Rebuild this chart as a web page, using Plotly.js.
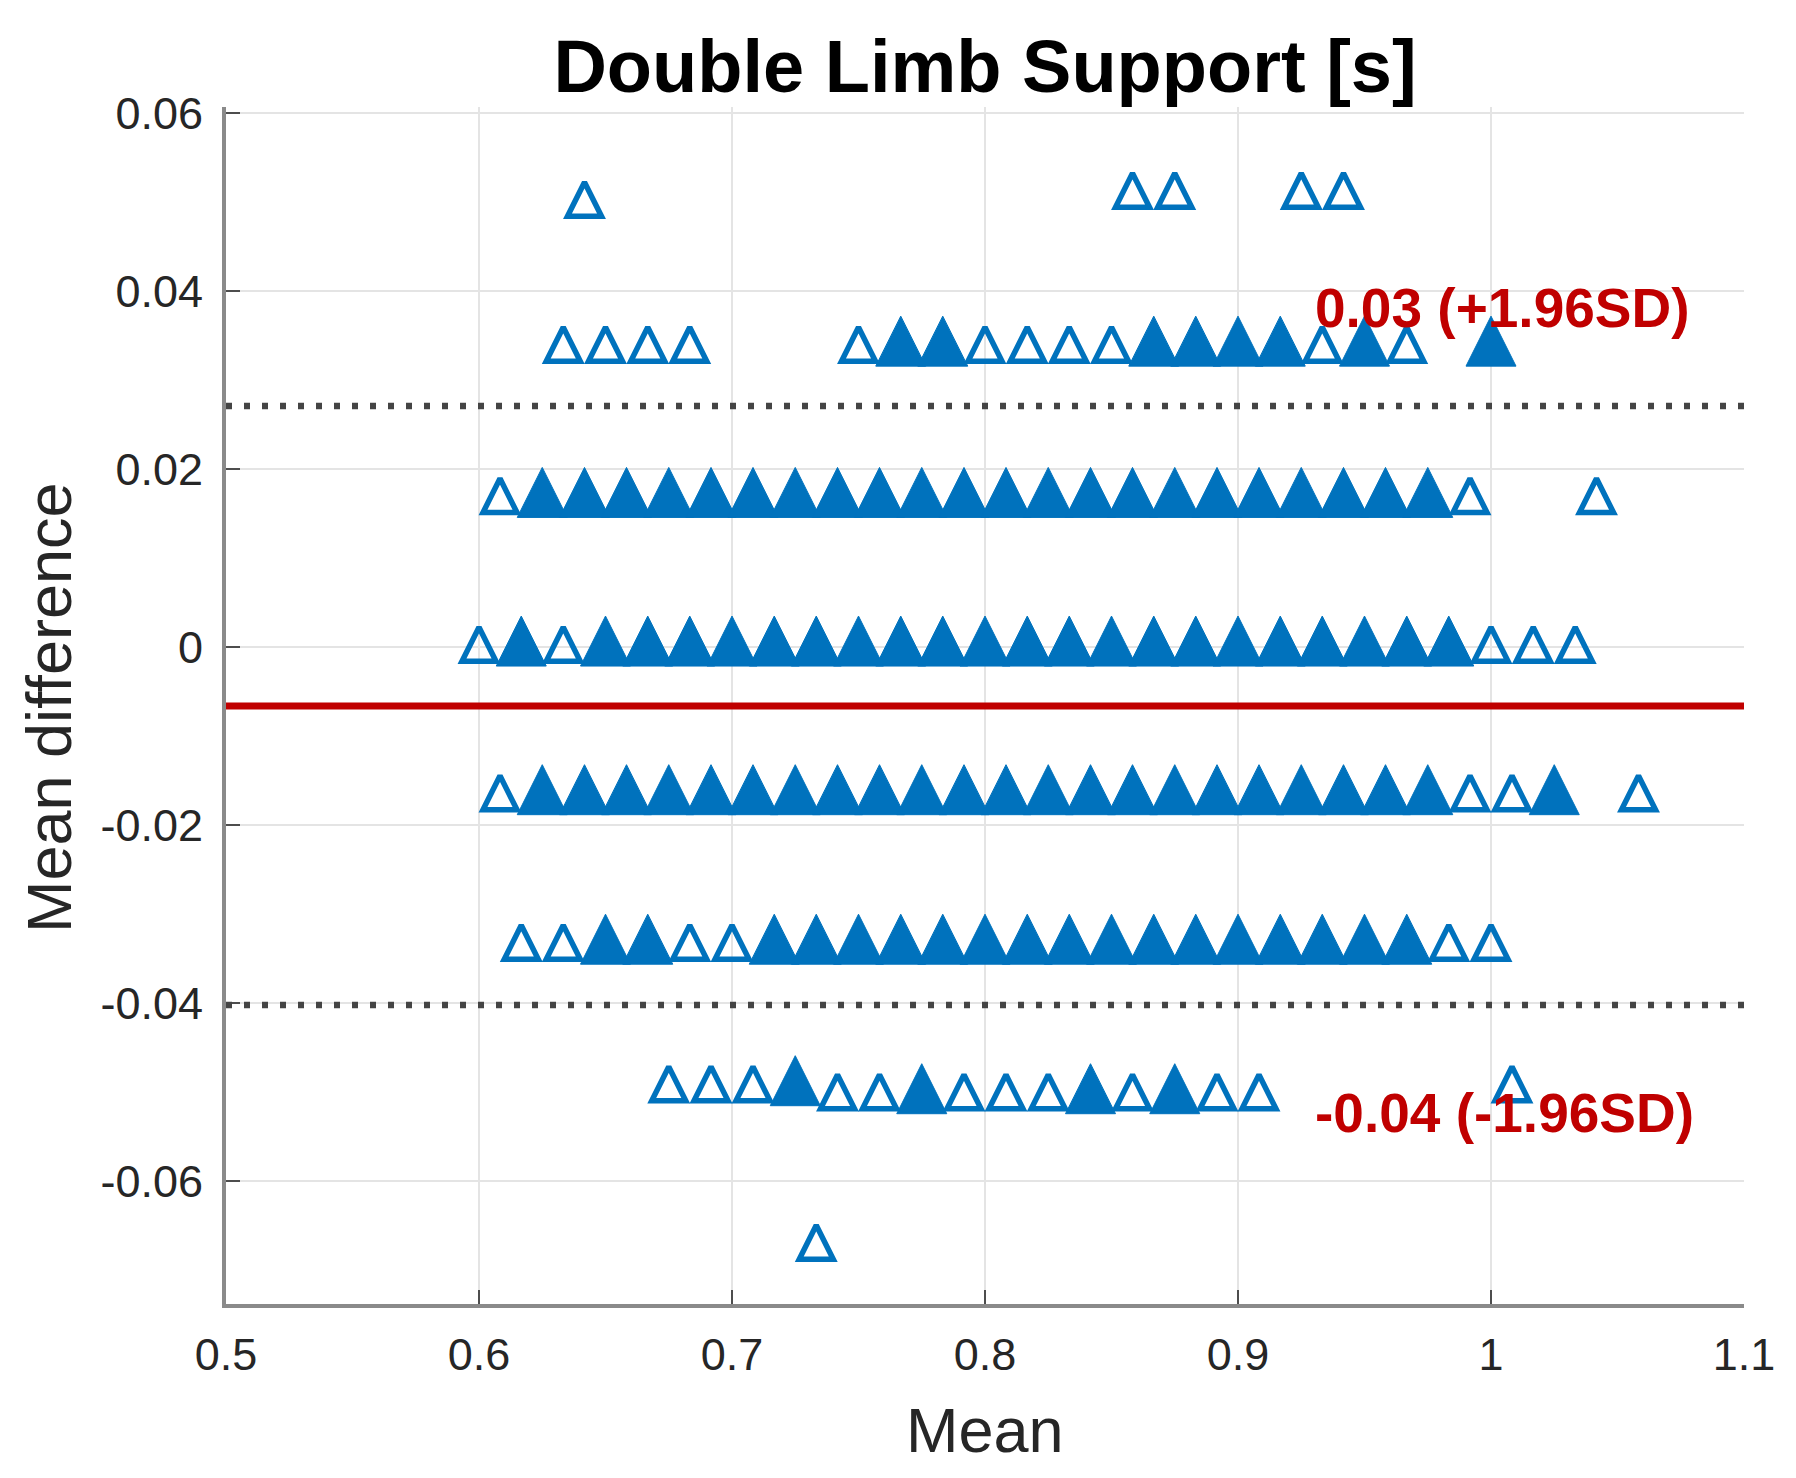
<!DOCTYPE html>
<html>
<head>
<meta charset="utf-8">
<script src="https://cdn.plot.ly/plotly-3.0.1.min.js"></script>
<style>
  html, body { margin: 0; padding: 0; background: #fff; }
  #chart { width: 1796px; height: 1478px; }
</style>
</head>
<body>
<div id="chart"></div>
<script>
// Bland-Altman data (seconds)
const diffLevels = [0.0500, 0.0510, 0.0337, 0.0167, 0, -0.0167, -0.0335, -0.0494, -0.0503, -0.0672];

// sparse (single / double) points per difference level
const openMeans = [
    [0.6417],
    [0.8583, 0.875, 0.925, 0.9417],
    [0.6333, 0.65, 0.6667, 0.6833, 0.75, 0.8, 0.8167, 0.8333, 0.85, 0.9333, 0.9667],
    [0.6083, 0.9917, 1.0417],
    [0.6, 0.6333, 1.0, 1.0167, 1.0333],
    [0.6083, 0.9917, 1.0083, 1.0583],
    [0.6167, 0.6333, 0.6833, 0.7, 0.9833, 1.0],
    [0.675, 0.6917, 0.7083, 1.0083],
    [0.7417, 0.7583, 0.7917, 0.8083, 0.825, 0.8583, 0.8917, 0.9083],
    [0.7333]
];

// heavily overlapping points per difference level
const denseMeans = [
    [],
    [],
    [0.7667, 0.7833, 0.8667, 0.8833, 0.9, 0.9167, 0.95, 1.0],
    [0.625, 0.6417, 0.6583, 0.675, 0.6917, 0.7083, 0.725, 0.7417, 0.7583, 0.775, 0.7917,
     0.8083, 0.825, 0.8417, 0.8583, 0.875, 0.8917, 0.9083, 0.925, 0.9417, 0.9583, 0.975],
    [0.6167, 0.65, 0.6667, 0.6833, 0.7, 0.7167, 0.7333, 0.75, 0.7667, 0.7833, 0.8, 0.8167,
     0.8333, 0.85, 0.8667, 0.8833, 0.9, 0.9167, 0.9333, 0.95, 0.9667, 0.9833],
    [0.625, 0.6417, 0.6583, 0.675, 0.6917, 0.7083, 0.725, 0.7417, 0.7583, 0.775, 0.7917,
     0.8083, 0.825, 0.8417, 0.8583, 0.875, 0.8917, 0.9083, 0.925, 0.9417, 0.9583, 0.975, 1.025],
    [0.65, 0.6667, 0.7167, 0.7333, 0.75, 0.7667, 0.7833, 0.8, 0.8167, 0.8333, 0.85, 0.8667,
     0.8833, 0.9, 0.9167, 0.9333, 0.95, 0.9667],
    [0.725],
    [0.775, 0.8417, 0.875],
    []
];

const meanDiff = -0.0066;
const upperLoA = 0.0271;
const lowerLoA = -0.0402;
const upperLabel = '0.03 (+1.96SD)';
const lowerLabel = '-0.04 (-1.96SD)';

const xTicks = [0.5, 0.6, 0.7, 0.8, 0.9, 1.0, 1.1];
const xTickText = ['0.5', '0.6', '0.7', '0.8', '0.9', '1', '1.1'];
const yTicks = [-0.06, -0.04, -0.02, 0, 0.02, 0.04, 0.06];
const yTickText = ['-0.06', '-0.04', '-0.02', '0', '0.02', '0.04', '0.06'];

const openX = [], openY = [], denseX = [], denseY = [];
diffLevels.forEach((d, i) => {
    openMeans[i].forEach(m => { openX.push(m); openY.push(d); });
    denseMeans[i].forEach(m => { denseX.push(m); denseY.push(d); });
});

const yRange = [-0.0738, 0.0607];
// arrow markers hang below their point, so overlay axes lift them onto the value
const shiftRange = s => [yRange[0] - s, yRange[1] - s];

const FONT = 'Liberation Sans, Arial, Helvetica, sans-serif';
const BLUE = '#0072BD';
const RED = '#C00000';

const traces = [
    {
        x: denseX, y: denseY, yaxis: 'y2', type: 'scatter', mode: 'markers',
        hoverinfo: 'x+y',
        marker: {symbol: 'arrow-up', size: 50, color: BLUE, line: {color: BLUE, width: 1}}
    },
    {
        x: openX, y: openY, yaxis: 'y3', type: 'scatter', mode: 'markers',
        hoverinfo: 'x+y',
        marker: {symbol: 'arrow-up-open', size: 34, color: BLUE, line: {color: BLUE, width: 5.5}}
    }
];

const axisCommon = {
    showline: true, linecolor: '#8a8a8a', linewidth: 4,
    showgrid: true, gridcolor: '#e4e4e4', gridwidth: 2,
    zeroline: false,
    ticks: 'inside', ticklen: 14, tickwidth: 2, tickcolor: '#4d4d4d',
    tickfont: {family: FONT, size: 45, color: '#262626'}
};

const layout = {
    width: 1796, height: 1478,
    margin: {l: 226, r: 52, t: 107, b: 174, pad: 0},
    paper_bgcolor: '#fff', plot_bgcolor: '#fff',
    showlegend: false,
    title: {
        text: 'Double Limb Support [s]',
        font: {family: FONT, size: 74, color: '#000', weight: 'bold'},
        x: 0.5, xref: 'paper', xanchor: 'center',
        y: 1 - 66 / 1478, yref: 'container', yanchor: 'middle'
    },
    xaxis: Object.assign({}, axisCommon, {
        range: [0.5, 1.1], tickmode: 'array', tickvals: xTicks, ticktext: xTickText,
        ticklabelstandoff: 8
    }),
    yaxis: Object.assign({}, axisCommon, {
        range: yRange, tickmode: 'array', tickvals: yTicks, ticktext: yTickText,
        ticklabelstandoff: 10
    }),
    yaxis2: {overlaying: 'y', range: shiftRange(0.0035), visible: false},
    yaxis3: {overlaying: 'y', range: shiftRange(0.00225), visible: false},
    shapes: [
        {type: 'line', xref: 'paper', x0: 0, x1: 1, yref: 'y', y0: upperLoA, y1: upperLoA,
         line: {color: '#444', width: 6.5, dash: '6px,12px'}},
        {type: 'line', xref: 'paper', x0: 0, x1: 1, yref: 'y', y0: lowerLoA, y1: lowerLoA,
         line: {color: '#444', width: 6.5, dash: '6px,12px'}},
        {type: 'line', xref: 'paper', x0: 0, x1: 1, yref: 'y', y0: meanDiff, y1: meanDiff,
         line: {color: RED, width: 7}}
    ],
    annotations: [
        {text: upperLabel, x: 0.9296, y: 0.0381, xref: 'x', yref: 'y',
         xanchor: 'left', yanchor: 'middle', showarrow: false,
         font: {family: FONT, size: 55, color: RED, weight: 'bold'}},
        {text: lowerLabel, x: 0.9296, y: -0.0523, xref: 'x', yref: 'y',
         xanchor: 'left', yanchor: 'middle', showarrow: false,
         font: {family: FONT, size: 55, color: RED, weight: 'bold'}},
        {text: 'Mean', x: 0.5, y: -0.1053, xref: 'paper', yref: 'paper',
         xanchor: 'center', yanchor: 'middle', showarrow: false,
         font: {family: FONT, size: 63, color: '#262626'}},
        {text: 'Mean difference', x: -0.1166, y: 0.4979, xref: 'paper', yref: 'paper',
         xanchor: 'center', yanchor: 'middle', textangle: -90, showarrow: false,
         font: {family: FONT, size: 63, color: '#262626'}}
    ]
};

Plotly.newPlot('chart', traces, layout, {displayModeBar: false, staticPlot: true});
</script>
</body>
</html>
